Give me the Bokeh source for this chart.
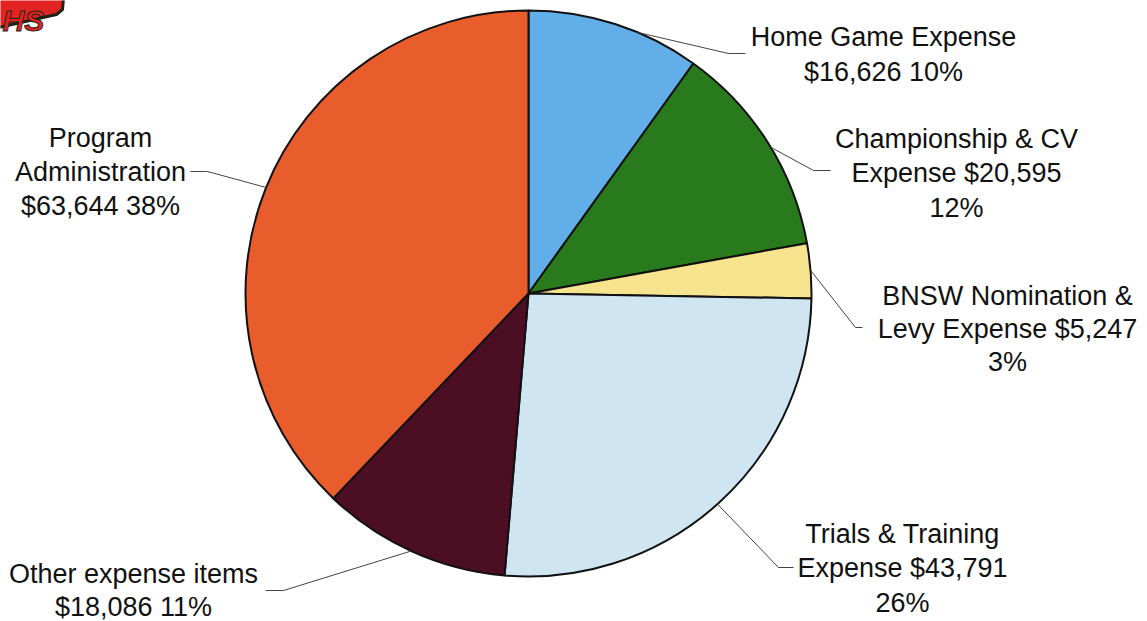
import math
from bokeh.plotting import figure
from bokeh.models import Range1d, ColumnDataSource
from bokeh.core.properties import value
from bokeh.embed import file_html
from bokeh.resources import INLINE

# ---- data ----
categories = ["Home Game Expense", "Championship & CV Expense", "BNSW Nomination & Levy Expense",
              "Trials & Training Expense", "Other expense items", "Program Administration"]
amounts = [16626, 20595, 5247, 43791, 18086, 63644]
colors = ["#62aee9", "#287a1c", "#f6e58e", "#cfe6f2", "#4c0e22", "#e95c2c"]
label_lines = [
    ["Home Game Expense", "$16,626 10%"],
    ["Championship & CV", "Expense $20,595", "12%"],
    ["BNSW Nomination &", "Levy Expense $5,247", "3%"],
    ["Trials & Training", "Expense $43,791", "26%"],
    ["Other expense items", "$18,086 11%"],
    ["Program", "Administration", "$63,644 38%"],
]

# ---- layout ----
W, H = 1147, 621
def Y(page_y):
    return H - page_y
def X(page_x):
    return page_x

cx, cy, R = X(528), Y(293), 283
# leader: angle (deg clockwise from top) where it touches the pie, elbow point, end point (page coords)
leader_angle = [22.7, 58.9, 85.3, 138.1, 204.5, 292.0]
leader_elbow = [(728, 53), (813, 170), (855, 327), (778, 567), (283, 590), (207, 171)]
leader_end = [(745, 53), (830, 170), (862, 327), (793, 567), (265, 590), (190, 171)]
label_x = [883, 956, 1007, 902, 133, 100]
label_y = [[36, 71], [138, 172, 207], [295, 328, 361], [533, 567, 602], [573, 606], [137, 171, 205]]

p = figure(width=W, height=H, x_range=Range1d(0, W), y_range=Range1d(0, H),
           output_backend="svg", toolbar_location=None, min_border=0)
p.axis.visible = False
p.grid.visible = False
p.outline_line_color = None
p.background_fill_color = "white"

total = float(sum(amounts))
starts, ends = [], []
cum = 0.0
for a in amounts:
    starts.append(math.pi / 2 - cum / total * 2 * math.pi)
    cum += a
    ends.append(math.pi / 2 - cum / total * 2 * math.pi)

src = ColumnDataSource(dict(start=starts, end=ends, color=colors, name=categories))
p.wedge(x=cx, y=cy, radius=R, start_angle="start", end_angle="end", direction="clock",
        fill_color="color", line_color="#111111", line_width=2, source=src)

# leaders
for ang, el, en in zip(leader_angle, leader_elbow, leader_end):
    t = math.radians(ang)
    sx = cx + R * math.sin(t)
    sy = cy + R * math.cos(t)
    p.line([sx, X(el[0]), X(en[0])], [sy, Y(el[1]), Y(en[1])], line_color="#444444", line_width=1)

# labels
for lines, lx, lys in zip(label_lines, label_x, label_y):
    p.text(x=[X(lx)] * len(lines), y=[Y(v) for v in lys], text=lines,
           text_font=value("Liberation Sans"), text_font_size="27px",
           text_align="center", text_baseline="middle", text_color="#111111")

# logo fragment top-left
p.patch([X(-2), X(63), X(62), X(56), X(-2)], [Y(-2), Y(-2), Y(9), Y(14), Y(27)],
        fill_color="#e32322", line_color="#1c2418", line_width=3)
p.text(x=[X(2)], y=[Y(20)], text=["HS"], text_font=value("Liberation Sans"),
       text_font_size="30px", text_font_style="bold italic", text_color="#e32322",
       text_outline_color="#1c2418", text_align="left", text_baseline="alphabetic")

open("out.html", "w").write(file_html(p, INLINE))
